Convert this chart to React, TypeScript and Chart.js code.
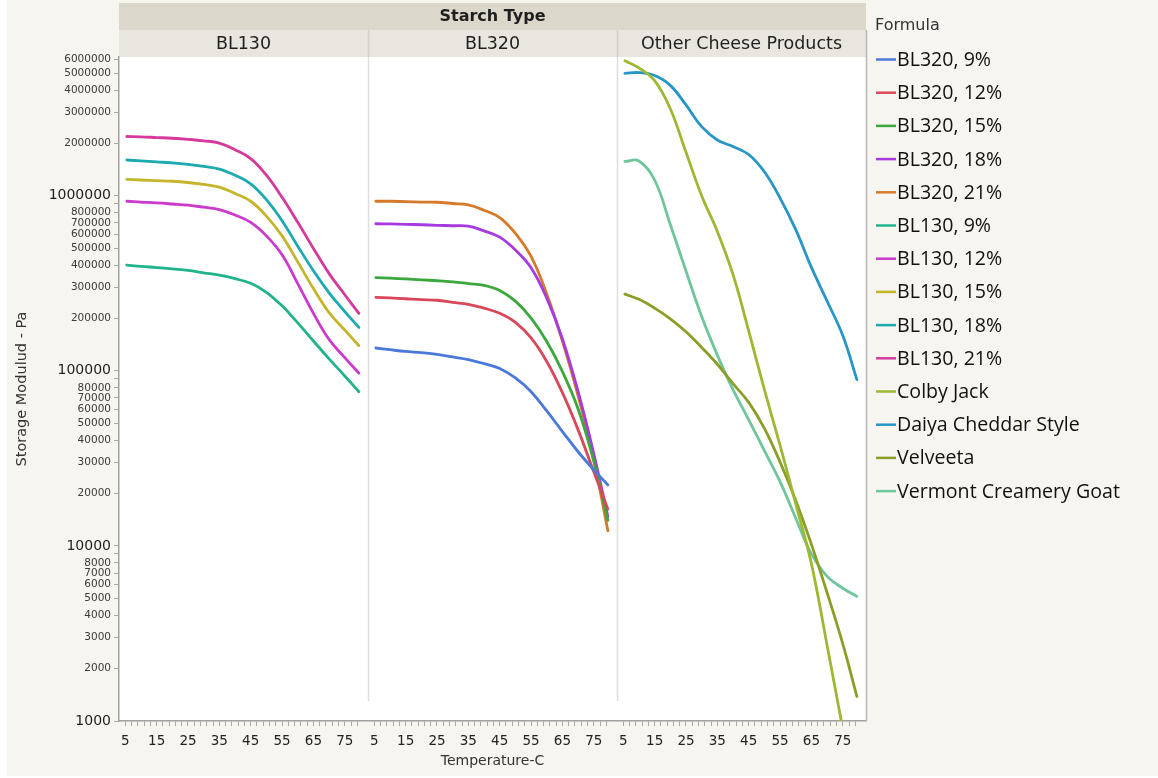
import React, { useEffect, useRef } from "react";
import { Chart, registerables } from "chart.js";

Chart.register(...registerables);

const W = 1158;
const H = 778;

// ---------------- data ----------------
const TEMPERATURES = [5.5, 10, 15, 20, 25, 30, 35, 40, 45, 50, 55, 60, 65, 70, 75, 79.5];

const PANELS = ["BL130", "BL320", "Other Cheese Products"];
const FACET_TITLE = "Starch Type";
const LEGEND_TITLE = "Formula";
const X_TITLE = "Temperature-C";
const Y_TITLE = "Storage Modulud - Pa";

const X_TICK_LABELS = [5, 15, 25, 35, 45, 55, 65, 75];
const X_MINOR_TICKS = [5, 7, 9, 11, 13, 15, 17, 19, 21, 23, 25, 27, 29, 31, 33, 35, 37, 39, 41, 43, 45, 47, 49, 51, 53, 55, 57, 59, 61, 63, 65, 67, 69, 71, 73, 75, 77, 79];

const Y_TICKS = [
  1000, 2000, 3000, 4000, 5000, 6000, 7000, 8000, 9000,
  10000, 20000, 30000, 40000, 50000, 60000, 70000, 80000, 90000,
  100000, 200000, 300000, 400000, 500000, 600000, 700000, 800000, 900000,
  1000000, 2000000, 3000000, 4000000, 5000000, 6000000,
];
const Y_UNLABELED = [9000, 90000, 900000];
const Y_DECADES = [1000, 10000, 100000, 1000000];

const BL320_9 = [1.35e5, 1.32e5, 1.29e5, 1.27e5, 1.24e5, 1.2e5, 1.16e5, 1.1e5, 1.03e5, 9.1e4, 7.6e4, 5.9e4, 4.5e4, 3.45e4, 2.72e4, 2.23e4];
const BL320_12 = [2.63e5, 2.61e5, 2.58e5, 2.55e5, 2.53e5, 2.46e5, 2.4e5, 2.28e5, 2.13e5, 1.89e5, 1.54e5, 1.13e5, 7.5e4, 4.6e4, 2.65e4, 1.62e4];
const BL320_15 = [3.41e5, 3.38e5, 3.35e5, 3.31e5, 3.27e5, 3.22e5, 3.15e5, 3.08e5, 2.88e5, 2.5e5, 2.0e5, 1.47e5, 9.9e4, 6.05e4, 3.05e4, 1.4e4];
const BL320_18 = [6.92e5, 6.9e5, 6.87e5, 6.83e5, 6.78e5, 6.74e5, 6.7e5, 6.3e5, 5.8e5, 4.9e5, 3.88e5, 2.6e5, 1.52e5, 7.6e4, 3.36e4, 1.47e4];
const BL320_21 = [9.3e5, 9.3e5, 9.25e5, 9.2e5, 9.18e5, 9.03e5, 8.87e5, 8.26e5, 7.5e5, 6.1e5, 4.5e5, 2.75e5, 1.48e5, 7.2e4, 3.1e4, 1.22e4];

const BL130_9 = [4.02e5, 3.95e5, 3.89e5, 3.82e5, 3.75e5, 3.63e5, 3.52e5, 3.36e5, 3.16e5, 2.81e5, 2.35e5, 1.88e5, 1.48e5, 1.17e5, 9.35e4, 7.6e4];
const BL130_12 = [9.3e5, 9.2e5, 9.1e5, 8.97e5, 8.83e5, 8.6e5, 8.34e5, 7.76e5, 7.04e5, 5.9e5, 4.6e5, 3.15e5, 2.13e5, 1.51e5, 1.19e5, 9.7e4];
const BL130_15 = [1.24e6, 1.23e6, 1.22e6, 1.21e6, 1.19e6, 1.16e6, 1.12e6, 1.03e6, 9.3e5, 7.65e5, 5.9e5, 4.19e5, 2.95e5, 2.15e5, 1.71e5, 1.39e5];
const BL130_18 = [1.6e6, 1.58e6, 1.56e6, 1.54e6, 1.51e6, 1.47e6, 1.42e6, 1.31e6, 1.17e6, 9.5e5, 7.2e5, 5.15e5, 3.73e5, 2.79e5, 2.18e5, 1.77e5];
const BL130_21 = [2.18e6, 2.17e6, 2.15e6, 2.13e6, 2.1e6, 2.06e6, 2.0e6, 1.83e6, 1.63e6, 1.31e6, 9.8e5, 7.05e5, 5.0e5, 3.59e5, 2.72e5, 2.13e5];

const COLBY_JACK = [5.9e6, 5.37e6, 4.54e6, 3.14e6, 1.77e6, 1.0e6, 6.25e5, 3.54e5, 1.69e5, 7.8e4, 3.75e4, 1.74e4, 7.9e3, 2.7e3, 9.0e2, null];
const DAIYA = [5.0e6, 5.05e6, 4.86e6, 4.27e6, 3.3e6, 2.48e6, 2.08e6, 1.91e6, 1.72e6, 1.37e6, 9.7e5, 6.4e5, 3.9e5, 2.5e5, 1.59e5, 8.9e4];
const VELVEETA = [2.74e5, 2.56e5, 2.28e5, 1.98e5, 1.67e5, 1.36e5, 1.09e5, 8.45e4, 6.6e4, 4.69e4, 3.01e4, 1.82e4, 1.02e4, 5.4e3, 2.76e3, 1.38e3];
const VERMONT = [1.57e6, 1.58e6, 1.23e6, 6.85e5, 3.72e5, 2.04e5, 1.23e5, 7.8e4, 5.25e4, 3.5e4, 2.33e4, 1.44e4, 9.0e3, 6.7e3, 5.73e3, 5.15e3];

const SERIES_NAMES = [
  "BL320, 9%", "BL320, 12%", "BL320, 15%", "BL320, 18%", "BL320, 21%",
  "BL130, 9%", "BL130, 12%", "BL130, 15%", "BL130, 18%", "BL130, 21%",
  "Colby Jack", "Daiya Cheddar Style", "Velveeta", "Vermont Creamery Goat",
];
const SERIES_PANEL = [1, 1, 1, 1, 1, 0, 0, 0, 0, 0, 2, 2, 2, 2];
const SERIES_VALUES = [
  BL320_9, BL320_12, BL320_15, BL320_18, BL320_21,
  BL130_9, BL130_12, BL130_15, BL130_18, BL130_21,
  COLBY_JACK, DAIYA, VELVEETA, VERMONT,
];
const SERIES_COLORS = [
  "#4a78db", "#d9485a", "#3aa83c", "#a63ae0", "#d67a2a",
  "#20b38c", "#cc3acc", "#c4b52a", "#1aaab0", "#d43a9c",
  "#9db832", "#2796c6", "#8b9f28", "#6fc59c",
];

// ---------------- geometry (layout only) ----------------
const X_MIN = 3;
const PANEL_SPAN = 79.4;
const PLOT_LEFT = 119;
const PLOT_RIGHT = 866;
const PLOT_TOP = 57;
const PLOT_BOTTOM = 721;

const CREAM = "#f6f5ef";
const FONT = "'DejaVu Sans', 'Liberation Sans', sans-serif";
const LEGEND_FONT = "'Open Sans', 'Noto Sans', sans-serif";

const xTickValues: number[] = [];
const xTickText: string[] = [];
for (let k = 0; k < PANELS.length; k++) {
  for (const t of X_MINOR_TICKS) {
    xTickValues.push(t + k * PANEL_SPAN);
    xTickText.push(X_TICK_LABELS.includes(t) ? String(t) : "");
  }
}

const facetPlugin = {
  id: "facetPlugin",
  beforeDraw(chart: any) {
    const { ctx, chartArea: a } = chart;
    const xs = chart.scales.x;
    ctx.save();
    ctx.fillStyle = "#ffffff";
    ctx.fillRect(0, 0, W, H);
    ctx.fillStyle = CREAM;
    ctx.fillRect(7, 0, W - 7, H - 2);
    ctx.fillStyle = "#ffffff";
    ctx.fillRect(a.left, a.top, a.right - a.left, a.bottom - a.top);
    // header bands
    ctx.fillStyle = "#dbd7cb";
    ctx.fillRect(a.left, 3, a.right - a.left, 27);
    ctx.fillStyle = "#e8e6df";
    ctx.fillRect(a.left, 30, a.right - a.left, a.top - 30);
    ctx.fillStyle = "#1e1e1e";
    ctx.textAlign = "center";
    ctx.textBaseline = "middle";
    ctx.font = `bold 16px ${FONT}`;
    ctx.fillText(FACET_TITLE, (a.left + a.right) / 2, 17);
    ctx.font = `17.5px ${FONT}`;
    for (let k = 0; k < PANELS.length; k++) {
      const cx = xs.getPixelForValue(X_MIN + (k + 0.5) * PANEL_SPAN);
      ctx.fillText(PANELS[k], cx, 44);
    }
    ctx.strokeStyle = "#d3d0c6";
    ctx.lineWidth = 1.5;
    for (let k = 1; k < PANELS.length; k++) {
      const px = Math.round(xs.getPixelForValue(X_MIN + k * PANEL_SPAN)) + 0.5;
      ctx.beginPath();
      ctx.moveTo(px, 30);
      ctx.lineTo(px, a.top);
      ctx.stroke();
    }
    ctx.restore();
  },
  beforeDatasetsDraw(chart: any) {
    const { ctx, chartArea: a } = chart;
    const xs = chart.scales.x;
    ctx.save();
    ctx.strokeStyle = "#dedede";
    ctx.lineWidth = 1.5;
    for (let k = 1; k < PANELS.length; k++) {
      const px = Math.round(xs.getPixelForValue(X_MIN + k * PANEL_SPAN)) + 0.5;
      ctx.beginPath();
      ctx.moveTo(px, a.top);
      ctx.lineTo(px, a.bottom - 20);
      ctx.stroke();
    }
    ctx.restore();
  },
  afterDraw(chart: any) {
    const { ctx, chartArea: a } = chart;
    ctx.save();
    // right frame line
    ctx.strokeStyle = "#b8b8b8";
    ctx.lineWidth = 1.5;
    ctx.beginPath();
    ctx.moveTo(a.right + 0.5, 30);
    ctx.lineTo(a.right + 0.5, a.bottom);
    ctx.stroke();
    // legend
    ctx.textAlign = "left";
    ctx.textBaseline = "middle";
    ctx.fillStyle = "#333";
    ctx.font = `16px ${FONT}`;
    ctx.fillText(LEGEND_TITLE, 875, 26);
    chart.data.datasets.forEach((ds: any, i: number) => {
      const y = 59.5 + i * 33.2;
      ctx.strokeStyle = ds.borderColor;
      ctx.lineWidth = 2.5;
      ctx.beginPath();
      ctx.moveTo(876, y);
      ctx.lineTo(896, y);
      ctx.stroke();
      ctx.fillStyle = "#111";
      ctx.font = `19.6px ${LEGEND_FONT}`;
      ctx.fillText(ds.label, 897, y + 1);
    });
    ctx.restore();
  },
};

export default function App() {
  const ref = useRef<HTMLCanvasElement | null>(null);

  useEffect(() => {
    if (!ref.current) return;
    const datasets = SERIES_NAMES.map((name, s) => ({
      label: name,
      data: TEMPERATURES.map((t, i) => ({ x: t + SERIES_PANEL[s] * PANEL_SPAN, y: SERIES_VALUES[s][i] })).filter(
        (p) => p.y !== null
      ),
      borderColor: SERIES_COLORS[s],
      backgroundColor: SERIES_COLORS[s],
      borderWidth: 2.8,
      pointRadius: 0,
      pointHoverRadius: 0,
      fill: false,
      tension: 0.4,
      borderCapStyle: "round",
      borderJoinStyle: "round",
    }));

    const chart = new Chart(ref.current, {
      type: "line",
      data: { datasets },
      plugins: [facetPlugin],
      options: {
        responsive: false,
        animation: false,
        events: [],
        layout: { padding: { top: PLOT_TOP, right: W - PLOT_RIGHT, left: 0, bottom: 0 } },
        plugins: { legend: { display: false }, tooltip: { enabled: false } },
        scales: {
          x: {
            type: "linear",
            min: X_MIN,
            max: X_MIN + PANELS.length * PANEL_SPAN,
            afterBuildTicks: (scale: any) => {
              scale.ticks = xTickValues.map((v) => ({ value: v }));
            },
            afterFit: (scale: any) => {
              scale.height = H - PLOT_BOTTOM;
            },
            ticks: {
              autoSkip: false,
              maxRotation: 0,
              minRotation: 0,
              padding: 7,
              color: "#222",
              font: { size: 13.5, family: FONT },
              callback: (_v: any, i: number) => xTickText[i],
            },
            grid: { drawOnChartArea: false, drawTicks: true, tickLength: 5, color: "#a8a8a8" },
            border: { display: true, color: "#a0a0a0", width: 1.5 },
            title: {
              display: true,
              text: X_TITLE,
              color: "#333",
              font: { size: 14, family: FONT },
              padding: { top: 0, bottom: 8.5 },
            },
          },
          y: {
            type: "logarithmic",
            min: 1000,
            max: 6.2e6,
            afterBuildTicks: (scale: any) => {
              scale.ticks = Y_TICKS.map((v) => ({ value: v, major: Y_DECADES.includes(v) }));
            },
            afterFit: (scale: any) => {
              scale.width = PLOT_LEFT;
            },
            ticks: {
              autoSkip: false,
              padding: 3,
              color: (ctx: any) => (ctx.tick && Y_DECADES.includes(ctx.tick.value) ? "#1e1e1e" : "#3a3a3a"),
              font: (ctx: any) => ({
                size: ctx.tick && Y_DECADES.includes(ctx.tick.value) ? 14 : 10.5,
                family: FONT,
              }),
              callback: (v: any) => (Y_UNLABELED.includes(Number(v)) ? "" : String(Number(v))),
            },
            grid: { drawOnChartArea: false, drawTicks: true, tickLength: 5, color: "#a8a8a8" },
            border: { display: true, color: "#a0a0a0", width: 1.5 },
            title: {
              display: true,
              text: Y_TITLE,
              color: "#333",
              font: { size: 14.5, family: FONT },
              padding: { top: 14, bottom: 0 },
            },
          },
        },
      } as any,
    });
    return () => chart.destroy();
  }, []);

  return (
    <div style={{ position: "fixed", left: 0, top: 0, width: W, height: H, background: "#fff" }}>
      <canvas ref={ref} width={W} height={H} style={{ width: W, height: H, display: "block" }} />
    </div>
  );
}
